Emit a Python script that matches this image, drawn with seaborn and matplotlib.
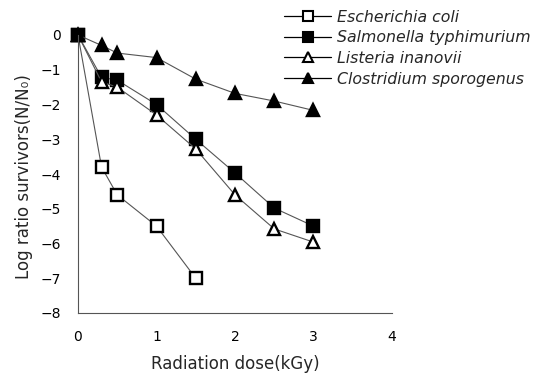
import matplotlib
matplotlib.use("Agg")
import matplotlib.pyplot as plt
from matplotlib.lines import Line2D
import numpy as np
import pandas as pd
import seaborn as sns

# dose (kGy) and log survivor ratios
dose_ecoli = [0, 0.3, 0.5, 1.0, 1.5]
ecoli = [0, -3.8, -4.6, -5.5, -7.0]

dose_long = [0, 0.3, 0.5, 1.0, 1.5, 2.0, 2.5, 3.0]
salmonella = [0, -1.22, -1.3, -2.0, -3.0, -3.97, -4.98, -5.5]
listeria = [0, -1.35, -1.5, -2.3, -3.28, -4.6, -5.58, -5.96]
clostridium = [0, -0.3, -0.52, -0.65, -1.27, -1.68, -1.9, -2.17]

names = ["Escherichia coli", "Salmonella typhimurium", "Listeria inanovii", "Clostridium sporogenus"]
markers = ["s", "s", "^", "^"]
faces = ["white", "black", "white", "black"]

sns.set_style("white")
plt.rcParams["font.family"] = ["DejaVu Sans"]

fig = plt.figure(figsize=(5.46, 3.77), dpi=100)
ax = fig.add_axes([78 / 546, 1 - 313 / 377, (392 - 78) / 546, (313 - 35) / 377])

series = [(dose_ecoli, ecoli), (dose_long, salmonella), (dose_long, listeria), (dose_long, clostridium)]
for (xs, ys), name, m, fc in zip(series, names, markers, faces):
    df = pd.DataFrame({"dose": xs, "log": ys})
    sns.lineplot(data=df, x="dose", y="log", ax=ax, color="#555555", linewidth=0.8,
                 marker=m, markersize=8.5 if m == "s" else 9, markerfacecolor=fc,
                 markeredgecolor="black", markeredgewidth=1.7, legend=False, clip_on=False)

ax.set_xlim(0, 4)
ax.set_ylim(-8, 0)
ax.set_xticks([0, 1, 2, 3, 4])
ax.set_yticks(np.arange(0, -9, -1))
ax.set_yticklabels(["0"] + ["\u2212%d" % i for i in range(1, 9)])
ax.tick_params(axis="both", direction="in", length=3, width=0.6, colors="#333333",
               labelsize=10, labelcolor="black")
ax.tick_params(axis="x", pad=12)
ax.tick_params(axis="y", pad=12)
for s in ["top", "right"]:
    ax.spines[s].set_visible(False)
for s in ["left", "bottom"]:
    ax.spines[s].set_color("#555555")
    ax.spines[s].set_linewidth(0.8)
ax.set_xlabel("Radiation dose(kGy)", fontsize=12, labelpad=8)
ax.set_ylabel("")
fig.text(24 / 546, 1 - 279 / 377, "Log ratio survivors(N/N\u2080)", rotation=90,
         fontsize=12, ha="center", va="bottom")

handles = [Line2D([0], [0], color="black", linewidth=0.9, marker=m, markersize=7.5,
                  markerfacecolor=fc, markeredgecolor="black", markeredgewidth=1.5)
           for m, fc in zip(markers, faces)]
fig.legend(handles, names, loc="upper left", bbox_to_anchor=(270 / 546, 1.012),
           frameon=False, prop={"style": "italic", "size": 11.3},
           handlelength=3.0, handletextpad=0.35, labelspacing=0.36)

fig.savefig("out.png", dpi=100)
